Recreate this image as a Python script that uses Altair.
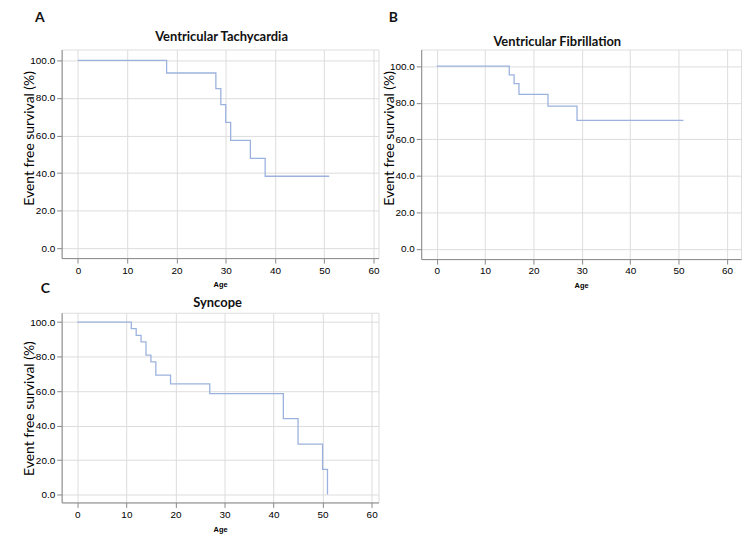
import altair as alt
import pandas as pd

# ---- data ----
vt_age = [0, 18, 28, 29, 30, 31, 35, 38, 51]
vt_surv = [100, 93.3, 85.0, 76.5, 67.0, 57.4, 47.8, 38.3, 38.3]

vf_age = [0, 15, 16, 17, 23, 29, 51]
vf_surv = [100, 95.2, 90.4, 84.6, 78.1, 70.3, 70.3]

sy_age = [0, 11, 12, 13, 14, 15, 16, 19, 27, 42, 45, 50, 51]
sy_surv = [100, 96.2, 92.3, 88.5, 80.8, 76.9, 69.2, 64.1, 58.5, 44.0, 29.2, 14.6, 0]

x_ticks = [0, 10, 20, 30, 40, 50, 60]
y_ticks = [0, 20, 40, 60, 80, 100]

titles = ["Ventricular Tachycardia", "Ventricular Fibrillation", "Syncope"]
letters = ["A", "B", "C"]

LINE = "#9cb2de"
one = pd.DataFrame({"k": [0]})


def panel(ages, surv, title, letter, w, h, xdom, ydom, ytitle_y,
          title_xy, letter_xy):
    df = pd.DataFrame({"Age": ages, "Surv": surv})
    line = alt.Chart(df).mark_line(
        interpolate="step-after", color=LINE, strokeWidth=1.3
    ).encode(
        x=alt.X("Age:Q",
                scale=alt.Scale(domain=xdom, nice=False, zero=False),
                axis=alt.Axis(values=x_ticks, title="Age", format="d",
                              titleFontSize=7.5, titleFontWeight="bold",
                              titlePadding=6, labelPadding=2)),
        y=alt.Y("Surv:Q",
                scale=alt.Scale(domain=ydom, nice=False, zero=False),
                axis=alt.Axis(values=y_ticks, format=".1f",
                              title="Event free survival (%)",
                              titleFont="Lato", titleFontSize=14,
                              titleFontWeight="normal",
                              titleX=-28, titleY=ytitle_y,
                              titleBaseline="alphabetic",
                              labelPadding=2)),
    )
    ttl = alt.Chart(one).mark_text(
        font="Lato", fontSize=13, fontWeight="bold", color="#111",
        baseline="alphabetic", align="center"
    ).encode(x=alt.value(title_xy[0]), y=alt.value(title_xy[1]),
             text=alt.value(title))
    let = alt.Chart(one).mark_text(
        font="Lato", fontSize=14, fontWeight="bold", color="#111",
        baseline="alphabetic", align="center"
    ).encode(x=alt.value(letter_xy[0]), y=alt.value(letter_xy[1]),
             text=alt.value(letter))
    return alt.layer(line, ttl, let).properties(width=w, height=h)


pa = panel(vt_age, vt_surv, titles[0], letters[0], 319, 210,
           [-3.3, 61.0], [-5.3, 105.8], 89, (161, -8.5), (-22, -28))
pb = panel(vf_age, vf_surv, titles[1], letters[1], 322, 211,
           [-3.2, 62.9], [-5.6, 109.1], 89, (137, -3.5), (-28, -28))
pc = panel(sy_age, sy_surv, titles[2], letters[2], 319, 191,
           [-3.2, 61.4], [-4.6, 105.4], 96, (157, -5.7), (-16.5, -20))

chart = alt.concat(
    pa, pb, pc, columns=2, bounds="flush",
    spacing={"row": 54, "column": 43}
).properties(
    padding={"left": 14, "top": 0, "right": 5, "bottom": 5}
).configure_view(stroke=None).configure_axis(
    grid=True, gridColor="#c0c0c0", gridWidth=1,
    domainColor="#a8a8a8", domainWidth=1,
    tickColor="#c0c0c0", tickSize=2,
    labelFont="Liberation Sans", labelFontSize=7, labelColor="#333",
    titleFont="Liberation Sans", titleColor="#111",
).configure(background="white")

chart.save("out.html", embed_options={"renderer": "svg", "actions": False})
